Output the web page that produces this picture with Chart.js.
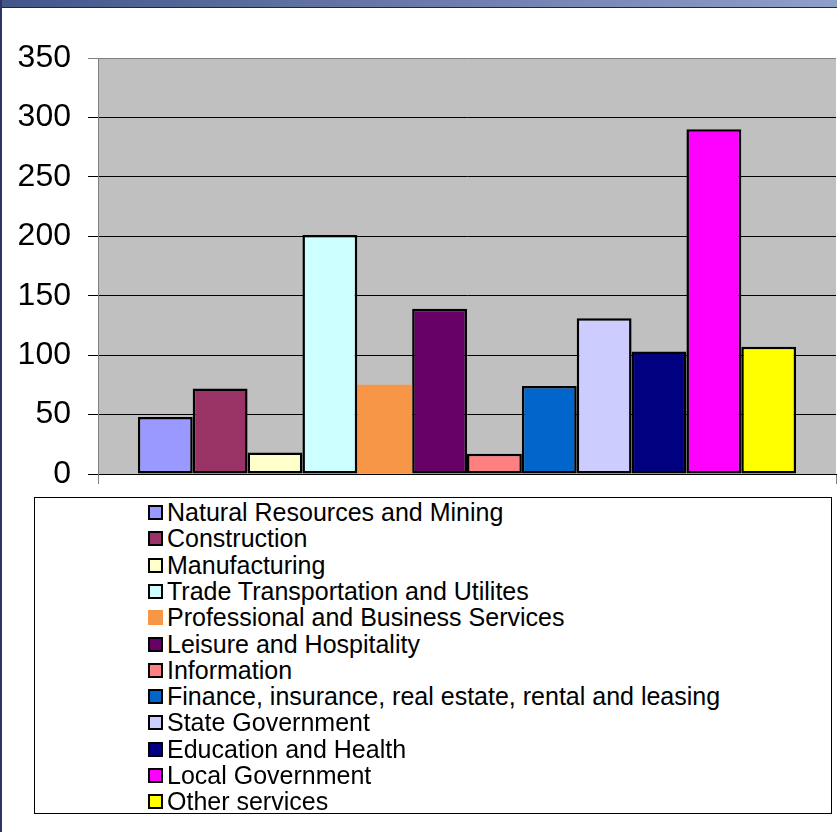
<!DOCTYPE html>
<html lang="en">
<head>
  <meta charset="UTF-8" />
  <title>Employment by sector</title>
  <script src="https://cdn.jsdelivr.net/npm/chart.js"></script>
  <style>
    html, body { margin: 0; padding: 0; background: #fff; }
    body { width: 837px; height: 832px; position: relative; overflow: hidden; font-family: "Liberation Sans", Arial, sans-serif; }
    #topbar { position: absolute; left: 0; top: 0; width: 837px; height: 7px;
      background: linear-gradient(to right, #44558a, #8f9fcb); border-bottom: 1px solid #1d2747; }
    #leftbar { position: absolute; left: 0; top: 0; width: 2px; height: 832px; background: #2a3766; }
    #wrap { position: absolute; left: 0; top: 0; width: 837px; height: 530px; }
    #legend { position: absolute; left: 34px; top: 497px; width: 798px; height: 317px;
      border: 1px solid #000; box-sizing: border-box; background: #fff; }
    .item { position: absolute; left: 113px; height: 26px; line-height: 26px; font-size: 25px; color: #000; white-space: nowrap; }
    .box { position: absolute; left: 0; top: 6px; width: 15px; height: 15px; box-sizing: border-box; }
    .item span { position: absolute; left: 19px; top: 0; }
  </style>
</head>
<body>
  <div id="wrap"><canvas id="chart" width="837" height="530"></canvas></div>
  <div id="topbar"></div>
  <div id="leftbar"></div>
  <div id="legend"></div>

  <script>
    var sectors = [
      'Natural Resources and Mining',
      'Construction',
      'Manufacturing',
      'Trade Transportation and Utilites',
      'Professional and Business Services',
      'Leisure and Hospitality',
      'Information',
      'Finance, insurance, real estate, rental and leasing',
      'State Government',
      'Education and Health',
      'Local Government',
      'Other services'
    ];
    var values = [48, 72, 18, 201, 75, 139, 17, 74, 131, 103, 290, 107];
    var colors = ['#9999ff', '#993366', '#ffffcc', '#ccffff', '#f79646', '#660066',
                  '#ff8080', '#0066cc', '#ccccff', '#000080', '#ff00ff', '#ffff00'];
    var borders = [2.5, 2.5, 2.5, 2.5, 0, 2.5, 2.5, 2.5, 2.5, 2.5, 2.5, 2.5];
    var yTicks = [0, 50, 100, 150, 200, 250, 300, 350];

    // gray plot background
    const plotBg = {
      id: 'plotBg',
      beforeDraw(chart) {
        const a = chart.chartArea;
        const ctx = chart.ctx;
        ctx.save();
        ctx.fillStyle = '#c0c0c0';
        ctx.fillRect(a.left, a.top, a.right - a.left, a.bottom - a.top);
        ctx.restore();
      }
    };

    const datasets = sectors.map((name, i) => ({
      label: name,
      data: [values[i]],
      backgroundColor: colors[i],
      borderColor: '#000',
      borderWidth: borders[i],
      borderSkipped: false
    }));

    const ctx = document.getElementById('chart').getContext('2d');
    new Chart(ctx, {
      type: 'bar',
      data: { labels: [''], datasets: datasets },
      options: {
        responsive: false,
        animation: false,
        layout: { padding: { top: 58, right: 1, bottom: 46, left: 0 } },
        datasets: { bar: { categoryPercentage: 0.892, barPercentage: 1 } },
        scales: {
          x: {
            offset: true,
            afterFit: s => { s.height = 10; },
            grid: { drawOnChartArea: false, drawTicks: true, tickLength: 10, color: '#808080' },
            border: { display: true, color: '#000' },
            ticks: { display: false }
          },
          y: {
            min: 0,
            max: 350,
            afterBuildTicks: s => { s.ticks = yTicks.map(v => ({ value: v })); },
            afterFit: s => { s.width = 98; },
            grid: {
              color: c => (c.tick && c.tick.value === 350) ? '#808080' : '#000',
              tickLength: 10,
              lineWidth: 1
            },
            border: { display: true, color: '#808080' },
            ticks: {
              color: '#000',
              padding: 17,
              font: { family: '"Liberation Sans", Arial, sans-serif', size: 32 }
            }
          }
        },
        plugins: {
          legend: { display: false },
          tooltip: { enabled: false }
        }
      },
      plugins: [plotBg]
    });

    // legend built from the same arrays
    var legend = document.getElementById('legend');
    sectors.forEach((name, i) => {
      var it = document.createElement('div');
      it.className = 'item';
      it.style.top = (1 + i * 26.3) + 'px';
      var b = document.createElement('div');
      b.className = 'box';
      b.style.background = colors[i];
      if (borders[i]) b.style.border = '2px solid #000';
      var t = document.createElement('span');
      t.textContent = name;
      it.appendChild(b);
      it.appendChild(t);
      legend.appendChild(it);
    });
  </script>
</body>
</html>
